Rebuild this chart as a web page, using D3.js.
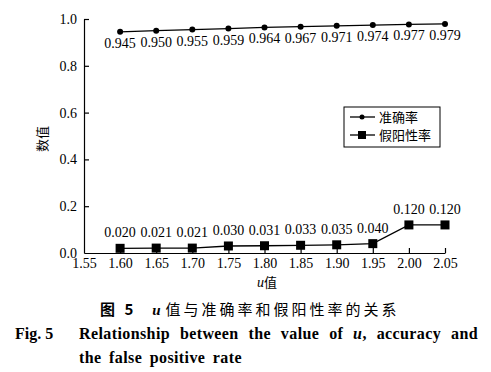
<!DOCTYPE html>
<html>
<head>
<meta charset="utf-8">
<script src="https://cdn.jsdelivr.net/npm/d3@7"></script>
<style>
  body { margin: 0; background: #fff; }
  text { font-family: "Liberation Serif", "Times New Roman", serif; fill: #000; }
  .cjk { font-family: "Noto Sans CJK SC", sans-serif; }
</style>
</head>
<body>
<div id="chart"></div>
<script>
// u values along the x axis
var uValues = [1.60, 1.65, 1.70, 1.75, 1.80, 1.85, 1.90, 1.95, 2.00, 2.05];
// accuracy (准确率)
var accuracy = [0.945, 0.950, 0.955, 0.959, 0.964, 0.967, 0.971, 0.974, 0.977, 0.979];
// false positive rate (假阳性率)
var fpRate = [0.020, 0.021, 0.021, 0.030, 0.031, 0.033, 0.035, 0.040, 0.120, 0.120];
var xTicks = [1.55, 1.60, 1.65, 1.70, 1.75, 1.80, 1.85, 1.90, 1.95, 2.00, 2.05];
var yTicks = [0.0, 0.2, 0.4, 0.6, 0.8, 1.0];
var seriesNames = ["准确率", "假阳性率"];

var width = 491, height = 372;
var svg = d3.select("#chart").append("svg")
    .attr("width", width)
    .attr("height", height);

var x = d3.scaleLinear().domain([1.55, 2.05]).range([84, 445]);
var y = d3.scaleLinear().domain([0, 1]).range([253, 19]);

//axes with inward ticks
var xAxis = svg.append("g")
    .attr("transform", "translate(0," + y(0) + ")")
    .call(d3.axisBottom(x).tickValues(xTicks).tickFormat(d3.format(".2f"))
        .tickSizeInner(-5).tickSizeOuter(0).tickPadding(5));
var yAxis = svg.append("g")
    .attr("transform", "translate(" + x(1.55) + ",0)")
    .call(d3.axisLeft(y).tickValues(yTicks).tickFormat(d3.format(".1f"))
        .tickSizeInner(-5).tickSizeOuter(0).tickPadding(7));

[xAxis, yAxis].forEach(function (a) {
    a.selectAll("text").style("font-size", "14px").style("font-family", "Liberation Serif");
    a.selectAll("line, path").attr("stroke", "#000").attr("stroke-width", 1.2);
});
xAxis.selectAll(".tick").filter(function (d) { return d === 1.55; }).select("line").remove();
yAxis.selectAll(".tick").filter(function (d) { return d === 0; }).select("line").remove();

var line = d3.line()
    .x(function (d) { return x(d[0]); })
    .y(function (d) { return y(d[1]); });

var accData = uValues.map(function (u, i) { return [u, accuracy[i]]; });
var fpData = uValues.map(function (u, i) { return [u, fpRate[i]]; });

//accuracy line and dots
svg.append("path")
    .attr("d", line(accData))
    .attr("fill", "none").attr("stroke", "#000").attr("stroke-width", 1.3);
svg.selectAll("circle.acc")
    .data(accData).enter().append("circle")
    .attr("class", "acc")
    .attr("cx", function (d) { return x(d[0]); })
    .attr("cy", function (d) { return y(d[1]); })
    .attr("r", 3);
svg.selectAll("text.accLabel")
    .data(accData).enter().append("text")
    .attr("class", "accLabel")
    .attr("x", function (d) { return x(d[0]); })
    .attr("y", function (d) { return y(d[1]) + 16; })
    .attr("text-anchor", "middle")
    .style("font-size", "14px")
    .text(function (d) { return d3.format(".3f")(d[1]); });

//false positive line and squares
svg.append("path")
    .attr("d", line(fpData))
    .attr("fill", "none").attr("stroke", "#000").attr("stroke-width", 1.3);
svg.selectAll("rect.fp")
    .data(fpData).enter().append("rect")
    .attr("class", "fp")
    .attr("x", function (d) { return x(d[0]) - 4.5; })
    .attr("y", function (d) { return y(d[1]) - 4.5; })
    .attr("width", 9).attr("height", 9);
svg.selectAll("text.fpLabel")
    .data(fpData).enter().append("text")
    .attr("class", "fpLabel")
    .attr("x", function (d) { return x(d[0]); })
    .attr("y", function (d) { return y(d[1]) - 11; })
    .attr("text-anchor", "middle")
    .style("font-size", "14px")
    .text(function (d) { return d3.format(".3f")(d[1]); });

//axis titles
svg.append("text")
    .attr("class", "cjk")
    .attr("transform", "translate(47,139) rotate(-90)")
    .attr("text-anchor", "middle")
    .style("font-size", "13px")
    .text("数值");
var xl = svg.append("text")
    .attr("x", 267).attr("y", 287)
    .attr("text-anchor", "middle")
    .style("font-size", "14px");
xl.append("tspan").style("font-style", "italic").text("u");
xl.append("tspan").attr("class", "cjk").style("font-size", "13px").text("值");

//legend
var legend = svg.append("g");
legend.append("rect")
    .attr("x", 344).attr("y", 107).attr("width", 96).attr("height", 40)
    .attr("fill", "#fff").attr("stroke", "#000").attr("stroke-width", 1);
seriesNames.forEach(function (name, i) {
    var ly = 117 + i * 18;
    legend.append("line")
        .attr("x1", 350).attr("x2", 375).attr("y1", ly).attr("y2", ly)
        .attr("stroke", "#000").attr("stroke-width", 1.3);
    if (i === 0) {
        legend.append("circle").attr("cx", 362).attr("cy", ly).attr("r", 2.5);
    } else {
        legend.append("rect").attr("x", 358).attr("y", ly - 4).attr("width", 8).attr("height", 8);
    }
    legend.append("text")
        .attr("class", "cjk")
        .attr("x", 379).attr("y", ly + 5)
        .style("font-size", "13px")
        .text(name);
});

//caption
var cap = svg.append("text")
    .attr("x", 100).attr("y", 315)
    .style("font-size", "15px");
cap.append("tspan").attr("class", "cjk").style("font-weight", "bold")
    .style("letter-spacing", "3px").text("图 5");
cap.append("tspan").attr("dx", 16).style("font-style", "italic").style("font-weight", "bold").text("u");
cap.append("tspan").attr("class", "cjk").attr("dx", 5)
    .style("letter-spacing", "3px").text("值与准确率和假阳性率的关系");

svg.append("text")
    .attr("x", 15).attr("y", 339)
    .style("font-size", "16px").style("font-weight", "bold")
    .text("Fig. 5");

//justify a line by widening the gaps between words
function wordLine(x0, y0, target, parts) {
    var t = svg.append("text")
        .attr("x", x0).attr("y", y0)
        .style("font-size", "16px").style("font-weight", "bold")
        .style("letter-spacing", "0.4px");
    parts.forEach(function (p) {
        var s = t.append("tspan").text(p[0]);
        if (p[1]) s.style("font-style", "italic");
    });
    var spaces = parts.map(function (p) { return p[0]; }).join("").split(" ").length - 1;
    var natural = t.node().getComputedTextLength();
    if (spaces > 0) t.style("word-spacing", ((target - natural) / spaces) + "px");
}
wordLine(79, 339, 399, [["Relationship between the value of "], ["u", true], [", accuracy and"]]);
wordLine(79, 363, 163, [["the false positive rate"]]);
</script>
</body>
</html>
